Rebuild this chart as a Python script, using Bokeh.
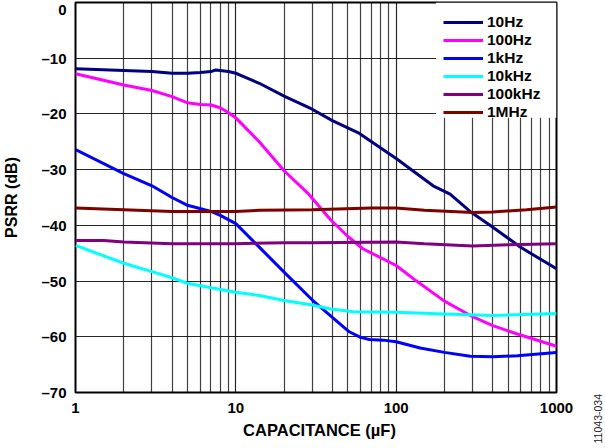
import math
from bokeh.plotting import figure
from bokeh.layouts import row, column
from bokeh.models import (FixedTicker, NumeralTickFormatter, Legend, LegendItem, BoxAnnotation,
                          Range1d, Div)
from bokeh.embed import file_html
from bokeh.resources import INLINE

# ---- data ----
c_10hz = [1, 2, 3, 4, 5, 6, 7, 7.5, 9, 10, 11, 14, 20, 28.8, 40, 59, 100, 170, 217, 289, 395, 594, 1000]
db_10hz = [-11.9, -12.2, -12.4, -12.7, -12.7, -12.55, -12.4, -12.1, -12.4, -12.7, -13.2, -14.5, -16.8, -18.9,
           -21.2, -23.5, -28.0, -32.9, -34.4, -37.5, -40.2, -43.9, -47.8]

c_100hz = [1, 2, 3, 4, 5, 6, 7, 8, 9, 10, 14, 20, 28.5, 39, 50, 62, 100, 134, 200, 300, 400, 570, 1000]
db_100hz = [-12.8, -14.8, -15.8, -16.9, -18.0, -18.3, -18.4, -18.9, -19.8, -20.7, -25.0, -30.2, -34.4, -39.0,
            -42.0, -44.2, -47.2, -50.0, -53.6, -56.4, -58.0, -59.5, -61.7]

c_1khz = [1, 2, 3, 4, 5, 7, 8, 10, 14, 20, 30, 40, 51, 60, 68, 83, 100, 141, 200, 290, 400, 570, 1000]
db_1khz = [-26.4, -30.7, -32.9, -35.0, -36.4, -37.5, -38.2, -39.7, -43.9, -48.4, -53.4, -56.5, -59.1, -60.1,
           -60.5, -60.6, -60.9, -62.0, -62.8, -63.5, -63.6, -63.4, -62.8]

c_10khz = [1, 2, 3, 4, 5, 7, 10, 14, 20, 30, 39, 54, 100, 200, 400, 1000]
db_10khz = [-43.6, -46.8, -48.3, -49.4, -50.4, -51.2, -52.0, -52.6, -53.5, -54.3, -55.0, -55.5, -55.6, -55.9,
            -56.2, -55.8]

c_100khz = [1, 1.5, 2, 4, 10, 20, 30, 100, 150, 300, 500, 1000]
db_100khz = [-42.7, -42.7, -43.0, -43.3, -43.3, -43.1, -43.1, -43.0, -43.3, -43.7, -43.5, -43.3]

c_1mhz = [1, 2, 4, 10, 14, 30, 70, 100, 150, 300, 400, 650, 1000]
db_1mhz = [-36.9, -37.2, -37.5, -37.5, -37.3, -37.2, -36.9, -36.9, -37.3, -37.7, -37.6, -37.2, -36.7]

series_names = ["10Hz", "100Hz", "1kHz", "10kHz", "100kHz", "1MHz"]
series_colors = ["#000080", "#FF00FF", "#0000FF", "#00FFFF", "#800080", "#800000"]
series_x = [c_10hz, c_100hz, c_1khz, c_10khz, c_100khz, c_1mhz]
series_y = [db_10hz, db_100hz, db_1khz, db_10khz, db_100khz, db_1mhz]

x_major = [1, 10, 100, 1000]
x_minor = [m * d for d in (1, 10, 100) for m in range(2, 10)]
y_ticks = [-70, -60, -50, -40, -30, -20, -10, 0]

x_title = "CAPACITANCE (\u00b5F)"
y_title = "PSRR (dB)"
figure_id = "11043-034"

FONT = "Liberation Sans"

p = figure(width=573, height=431, x_axis_type="log",
           x_range=Range1d(1, 1000), y_range=Range1d(-70, 0),
           output_backend="svg", toolbar_location=None,
           min_border_left=69, min_border_right=17, min_border_top=2, min_border_bottom=39)

# axes
p.xaxis.ticker = FixedTicker(ticks=x_major, minor_ticks=x_minor)
p.xaxis.formatter = NumeralTickFormatter(format="0")
p.yaxis.ticker = FixedTicker(ticks=y_ticks)
p.yaxis.major_label_overrides = {t: ("\u2013" + str(-t) if t < 0 else str(t)) for t in y_ticks}

for ax in (p.xaxis[0], p.yaxis[0]):
    ax.axis_line_color = None
    ax.major_tick_line_color = None
    ax.minor_tick_line_color = None
    ax.major_tick_out = 0
    ax.major_tick_in = 0
    ax.minor_tick_out = 0
    ax.minor_tick_in = 0
    ax.major_label_text_font = FONT
    ax.major_label_text_font_style = "bold"
    ax.major_label_text_font_size = "15px"
    ax.major_label_text_color = "black"
    ax.axis_label_text_font = FONT
    ax.axis_label_text_font_style = "bold"
    ax.axis_label_text_font_size = "16px"
    ax.axis_label_text_color = "black"

p.yaxis.axis_label = y_title
p.xaxis.major_label_standoff = 10
p.yaxis.major_label_standoff = 9
p.yaxis.axis_label_standoff = 18

# grid
p.xgrid.grid_line_color = "black"
p.xgrid.grid_line_alpha = 0.85
p.xgrid.grid_line_width = 1.2
p.xgrid.minor_grid_line_color = "black"
p.xgrid.minor_grid_line_alpha = 0.75
p.xgrid.minor_grid_line_width = 1.2
p.ygrid.grid_line_color = "black"
p.ygrid.grid_line_alpha = 0.85
p.ygrid.grid_line_width = 1.2

p.outline_line_color = "black"
p.outline_line_width = 2
p.outline_line_alpha = 1

# white panel behind legend
p.add_layout(BoxAnnotation(left=177, bottom=-20.7, fill_color="white", fill_alpha=1,
                           line_color=None, level="underlay"))

items = []
for name, col, xs, ys in zip(series_names, series_colors, series_x, series_y):
    r = p.line(xs, ys, line_color=col, line_width=3)
    items.append(LegendItem(label=name, renderers=[r]))

legend = Legend(items=items, location=(368, 271))
legend.background_fill_alpha = 0
legend.border_line_color = None
legend.padding = 3
legend.margin = 0
legend.spacing = 0
legend.glyph_width = 40
legend.glyph_height = 18
legend.label_height = 18
legend.label_standoff = 4
legend.label_text_font = FONT
legend.label_text_font_style = "bold"
legend.label_text_font_size = "15.5px"
legend.label_text_color = "black"
p.add_layout(legend, "center")

# x-axis title, centred under the plot frame
x_label = Div(width=573, height=1, text=(
    '<div style="position:absolute; left:314.5px; top:-14px; transform:translateX(-50%); '
    "font-family:'Liberation Sans'; font-weight:bold; font-size:16.5px; line-height:16px; "
    'color:#000000; white-space:nowrap;">' + x_title + '</div>'))

# figure id, written vertically (bottom to top) in a narrow strip at the right
fig_id = Div(width=16, height=432, text=(
    '<div style="position:absolute; left:4px; top:389px; width:12px; '
    'writing-mode:vertical-rl; transform:rotate(180deg); '
    "font-family:'Liberation Sans'; font-size:10.5px; line-height:12px; "
    'color:#222222; white-space:nowrap;">' + figure_id + '</div>'))

layout = row(column(p, x_label, spacing=0), fig_id, spacing=0)
open("out.html", "w").write(file_html(layout, INLINE))
